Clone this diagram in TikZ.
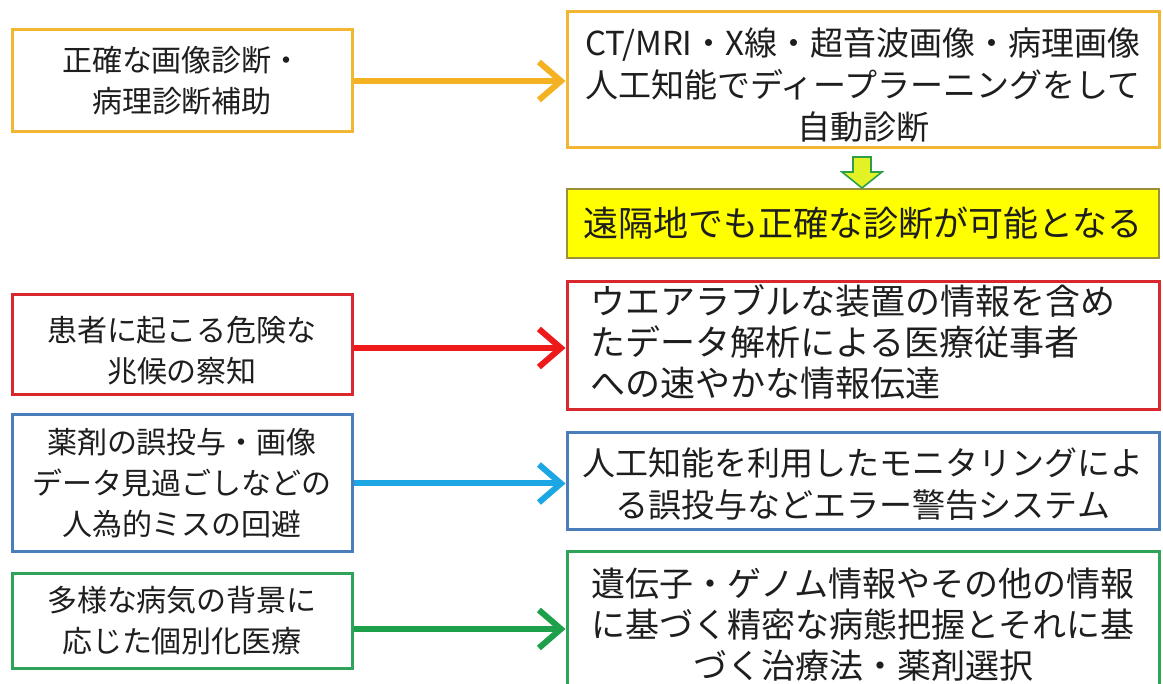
\documentclass[tikz,border=0pt]{standalone}
\usepackage{fontspec}
\setmainfont{Noto Sans CJK JP}
\usetikzlibrary{arrows.meta}
\definecolor{cgold}{HTML}{F2B632}
\definecolor{cgoldA}{HTML}{F4B223}
\definecolor{cred}{HTML}{D8272D}
\definecolor{credA}{HTML}{EE1A1A}
\definecolor{cblue}{HTML}{4A7EBB}
\definecolor{cblueA}{HTML}{1CA6E3}
\definecolor{cgreen}{HTML}{2FA35A}
\definecolor{cgreenA}{HTML}{1EA04A}
\definecolor{txt}{HTML}{1E1E1E}
\definecolor{yfill}{HTML}{FFFF00}
\definecolor{yline}{HTML}{9C8F3C}
\definecolor{dnfill}{HTML}{E2F224}
\definecolor{dnline}{HTML}{2E9E48}
\begin{document}
\begin{tikzpicture}[x=1pt,y=-1pt,
  box/.style={draw, line width=3pt, align=center, inner sep=0pt, text=txt},
  lbox/.style={box, minimum width=340pt, font=\fontsize{30}{41}\selectfont},
  rbox/.style={box, minimum width=592pt, font=\fontsize{33}{42}\selectfont},
  conn/.style={line width=6pt, -{Straight Barb[length=22pt,width=38pt]}},
  dnarrow/.style={draw=dnline, fill=dnfill, line width=1.6pt, line join=miter}
]
\useasboundingbox (0,0) rectangle (1163,684);
\fill[white] (0,0) rectangle (1163,684);
\clip (0,0) rectangle (1163,684);

\node[lbox, draw=cgold, minimum height=102pt] (L1) at (182,81) {正確な画像診断・\\病理診断補助};
\node[rbox, draw=cgold, minimum height=136pt] (R1) at (863,80) {\rule{0pt}{37pt}CT/MRI・X線・超音波画像・病理画像\\人工知能でディープラーニングをして\\自動診断};
\node[box, draw=yline, fill=yfill, line width=1.2pt, minimum width=592pt, minimum height=69pt, font=\fontsize{35}{42}\selectfont] (Y) at (863,223.5) {遠隔地でも正確な診断が可能となる};

\node[lbox, draw=cred, minimum height=100pt] (L2) at (182,345) {\rule{0pt}{36pt}患者に起こる危険な\\兆候の察知};
\node[rbox, draw=cred, minimum height=128pt, align=left, text width=545pt, font=\fontsize{35}{41}\selectfont] (R2) at (863,346) {ウエアラブルな装置の情報を含め\\たデータ解析による医療従事者\\への速やかな情報伝達\rule[-10pt]{0pt}{0pt}};

\node[lbox, draw=cblue, minimum height=137pt] (L3) at (182,483.5) {薬剤の誤投与・画像\\データ見過ごしなどの\\人為的ミスの回避};
\node[rbox, draw=cblue, minimum height=97pt] (R3) at (863,481.5) {\rule{0pt}{33pt}人工知能を利用したモニタリングによ\\る誤投与などエラー警告システム};

\node[lbox, draw=cgreen, minimum height=94pt] (L4) at (182,621) {多様な病気の背景に\\応じた個別化医療};
\node[rbox, draw=cgreen, minimum height=146pt, font=\fontsize{34}{41}\selectfont] (R4) at (863,625) {遺伝子・ゲノム情報やその他の情報\\に基づく精密な病態把握とそれに基\\づく治療法・薬剤選択};

\draw[conn, cgoldA] (L1.east) -- (L1.east -| R1.west);
\draw[conn, credA] ([yshift=-3pt]L2.east) -- ([yshift=-3pt]L2.east -| R2.west);
\draw[conn, cblueA] (L3.east) -- (L3.east -| R3.west);
\draw[conn, cgreenA] ([yshift=-8pt]L4.east) -- ([yshift=-8pt]L4.east -| R4.west);

\draw[dnarrow] (853,157) -- (871,157) -- (871,172) -- (882,172) -- (862,188) -- (842,172) -- (853,172) -- cycle;
\end{tikzpicture}
\end{document}
